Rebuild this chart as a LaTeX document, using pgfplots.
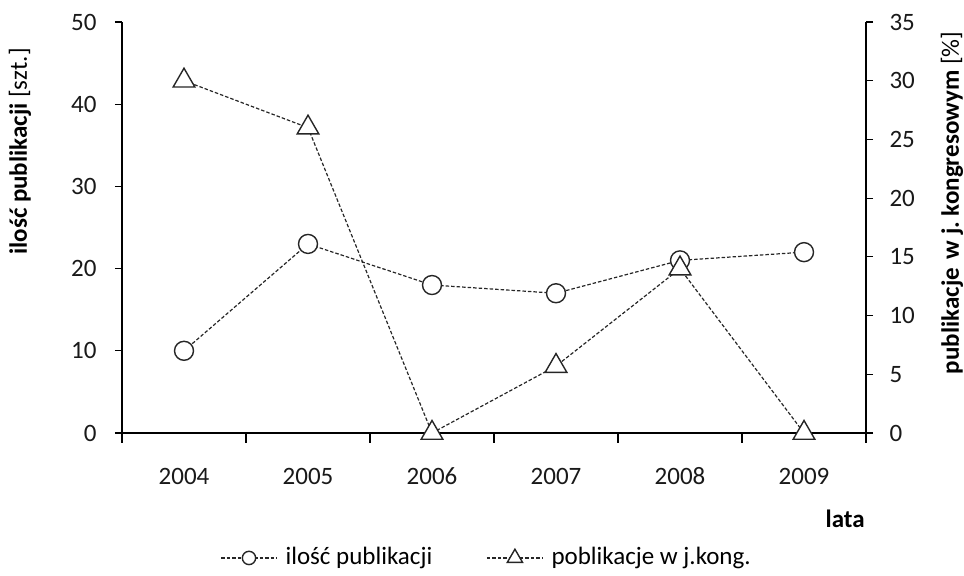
\documentclass[border=0pt]{standalone}
\usepackage{fontspec}
\setmainfont{Carlito}
\usepackage{pgfplots}
\pgfplotsset{compat=1.18}
\begin{document}
\fontsize{25bp}{29bp}\selectfont
\begin{tikzpicture}[x=1bp,y=1bp]
\useasboundingbox (0,0) rectangle (964,576);
\pgfplotsset{
 myaxis/.style={
  scale only axis, width=744bp, height=411bp, at={(122bp,143bp)}, anchor=south west,
  xmin=-0.5, xmax=5.5,
  /pgf/number format/assume math mode=true,
  tick align=outside, major tick length=7bp, minor tick length=10bp,
  axis line style={line width=1.2bp, black},
  tick style={line width=1.2bp, black},
  every tick label/.append style={font=\fontsize{25bp}{29bp}\selectfont, text=black!90},
 },
 lineA/.style={black!85, line width=1.2bp, dash pattern=on 3.5bp off 2bp, mark=*, mark size=9.5bp, mark options={solid, fill=white, draw=black!85, line width=1.4bp}},
 lineB/.style={black!85, line width=1.2bp, dash pattern=on 3.5bp off 2bp, mark=triangle*, mark size=12.5bp, mark options={solid, fill=white, draw=black!85, line width=1.4bp}},
}
\begin{axis}[myaxis,
  axis y line*=left, axis x line*=bottom,
  ymin=0, ymax=50, ytick={0,10,...,50},
  xtick={0,...,5}, xticklabels={2004,2005,2006,2007,2008,2009},
  major x tick style={draw=none},
  minor xtick={-0.5,0.5,...,5.5},
  xticklabel style={yshift=-20bp, text height=16bp, text depth=0bp},
  yticklabel style={xshift=-10bp},
  xlabel={\textbf{lata}},
  ylabel={\textbf{ilość publikacji} [szt.]},
  label style={font=\fontsize{25bp}{29bp}\selectfont},
  every axis x label/.style={at={(axis description cs:0.972,-0.209)}, anchor=center},
  every axis y label/.style={at={(axis description cs:-0.137,0.685)}, anchor=center, rotate=90},
  legend columns=2,
  legend style={at={(axis description cs:0.49,-0.304)}, anchor=center, draw=none, fill=none,
    font=\fontsize{25bp}{29bp}\selectfont,
    /tikz/every odd column/.append style={column sep=6bp},
    /tikz/every even column/.append style={column sep=52bp},
    cells={anchor=west}},
  legend image code/.code={\draw[mark repeat=2,mark phase=2,#1, every mark/.append style={scale=0.7}] plot coordinates {(0bp,0bp) (28bp,0bp) (56bp,0bp)};},
]
\addplot[lineA] coordinates {(0,10) (1,23) (2,18) (3,17) (4,21) (5,22)};
\addlegendentry{ilość publikacji}
\addlegendimage{lineB}
\addlegendentry{poblikacje w j.kong.}
\end{axis}
\begin{axis}[myaxis,
  axis y line*=right, axis x line=none,
  ymin=0, ymax=35, ytick={0,5,...,35},
  yticklabel style={xshift=8bp},
  ylabel={\textbf{publikacje\hspace{9bp}w j.\ kongresowym} [\%]},
  label style={font=\fontsize{25bp}{29bp}\selectfont},
  every axis y label/.style={at={(axis description cs:1.1156,0.56)}, anchor=center, rotate=90},
]
\addplot[lineB] coordinates {(0,30) (1,26) (2,0) (3,5.7) (4,14) (5,0)};
\end{axis}
\end{tikzpicture}
\end{document}
